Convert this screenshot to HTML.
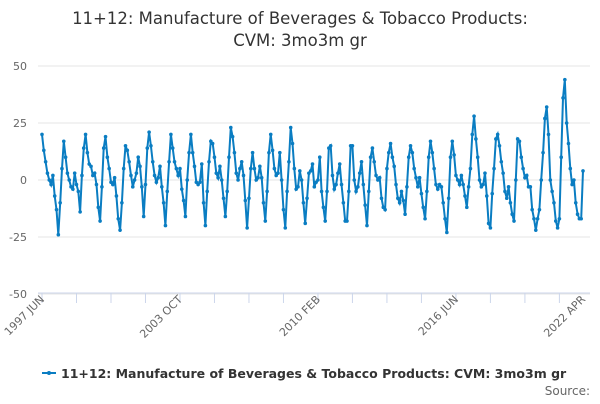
<!DOCTYPE html>
<html><head><meta charset="utf-8"><style>
body{margin:0;background:#fff;font-family:"DejaVu Sans","Liberation Sans",sans-serif}
</style></head><body>
<svg id="c" width="600" height="400" xmlns="http://www.w3.org/2000/svg" font-family="DejaVu Sans, Liberation Sans, sans-serif">
<text x="300" y="24" text-anchor="middle" font-size="16.5" fill="#333">11+12: Manufacture of Beverages &amp; Tobacco Products:</text>
<text x="300" y="46" text-anchor="middle" font-size="16.5" fill="#333">CVM: 3mo3m gr</text>
<g id="grid"></g><g id="xax"></g><g id="series"></g>
<g>
<line x1="42" y1="373" x2="56" y2="373" stroke="#0a7dc2" stroke-width="2"/>
<circle cx="49" cy="373" r="2" fill="#0a7dc2"/>
<text x="61" y="378" font-size="12.5" font-weight="bold" fill="#333">11+12: Manufacture of Beverages &amp; Tobacco Products: CVM: 3mo3m gr</text>
</g>
<text x="590" y="395" text-anchor="end" font-size="12" fill="#666">Source:</text>
</svg>
<script>
const yTicks=[50,25,0,-25,-50];
const xTickLabels=["1997 JUN","2003 OCT","2010 FEB","2016 JUN","2022 APR"];
const values=[20,13,8,3,0,-2,2,-7,-13,-24,-10,5,
17,10,3,0,-3,-4,3,-2,-5,-14,2,14,
20,12,7,6,2,3,-2,-12,-18,-3,14,19,
10,5,-1,-2,1,-7,-17,-22,-10,5,15,13,
8,2,-3,0,3,10,6,-3,-16,-2,14,21,
15,8,2,-1,1,6,-3,-10,-20,-5,8,20,
14,8,5,2,5,-4,-9,-16,0,12,20,12,
6,-1,-2,-1,7,-10,-20,-5,8,17,16,10,
3,1,6,0,-8,-16,-5,10,23,19,12,3,
0,5,8,2,-9,-21,-8,5,12,5,0,1,
6,1,-10,-18,-5,12,20,13,5,2,3,12,
0,-13,-21,-5,8,23,16,5,-4,-3,4,0,
-10,-19,-8,3,4,7,-3,-1,0,10,-5,-12,
-18,-5,14,15,2,-4,-2,3,7,-2,-10,-18,
-18,-5,15,15,0,-5,-3,3,8,-2,-11,-20,
-5,10,14,8,2,0,1,-8,-12,-13,5,12,
16,10,6,-2,-8,-10,-5,-9,-15,-3,10,15,
12,5,1,-3,1,-6,-12,-17,-5,10,17,12,
5,-2,-4,-2,-3,-10,-17,-23,-8,10,17,11,
2,0,-2,2,-2,-7,-12,-3,5,20,28,18,
10,0,-3,-2,3,-7,-19,-21,-6,5,18,20,
15,8,3,-5,-8,-3,-10,-15,-18,0,18,17,
10,5,1,2,-3,-3,-13,-17,-22,-17,-13,0,
12,27,32,20,0,-5,-10,-18,-21,-17,10,36,
44,25,16,5,-2,0,-10,-15,-17,-17,4];
const NS="http://www.w3.org/2000/svg";
const X0=42,X1=583,Y0=180,PX=57/25;
const n=values.length;
const xs=i=>X0+(X1-X0)*i/(n-1);
const ys=v=>Y0-v*PX;
function mk(t,a,p){const e=document.createElementNS(NS,t);for(const k in a)e.setAttribute(k,a[k]);p.appendChild(e);return e;}
const grid=document.getElementById('grid');
yTicks.forEach(v=>{
 const l=mk('line',{x1:38,x2:590,y1:ys(v),y2:ys(v),stroke:'#e6e6e6'},grid);
 
 
 const t=mk('text',{x:27,y:ys(v)+4,'text-anchor':'end','font-size':11,fill:'#666'},grid);
 t.textContent=v;
 
 
});
const xa=document.getElementById('xax');
const ax=mk('line',{x1:38,x2:590,y1:293,y2:293,stroke:'#ccd6eb'},xa);


for(let m=0;m<n;m+=19){const tk=mk('line',{x1:xs(m),x2:xs(m),y1:293,y2:303,stroke:'#ccd6eb'},xa);
 
 }
xTickLabels.forEach((s,i)=>{
 const m=i<4?i*76:n-1;const x=xs(m)+3,y=300;
 const t=mk('text',{x:x,y:y,'text-anchor':'end','font-size':11,fill:'#666',transform:`rotate(-45 ${x} ${y})`},xa);
 t.textContent=s;
 
 
});
const sg=document.getElementById('series');
const p=mk('path',{d:values.map((v,i)=>(i?'L':'M')+xs(i).toFixed(1)+','+ys(v).toFixed(1)).join(''),fill:'none',stroke:'#0a7dc2','stroke-width':2},sg);


values.forEach((v,i)=>{const c=mk('circle',{cx:xs(i),cy:ys(v),r:1.8,fill:'#0a7dc2'},sg);
 
 });
</script>
</body></html>
